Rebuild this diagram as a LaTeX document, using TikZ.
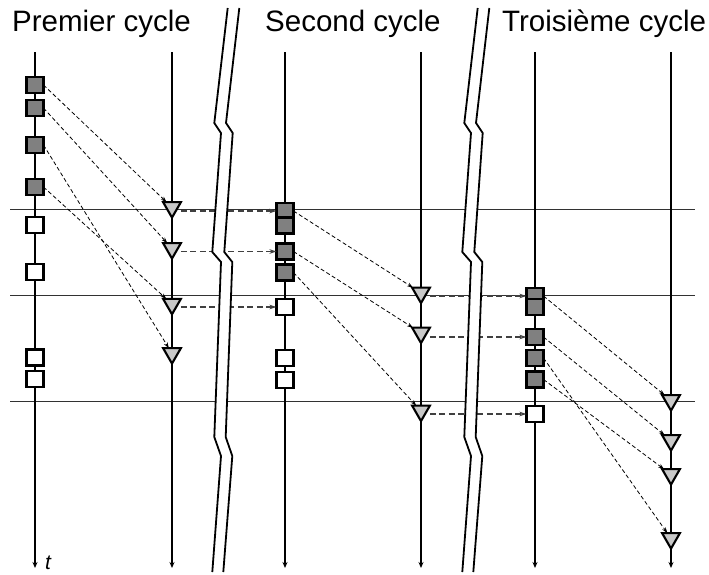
\documentclass[tikz,border=0pt]{standalone}
\usepackage{fontspec}
\setmainfont{Liberation Sans}
\usetikzlibrary{shapes.geometric,arrows.meta}
\definecolor{sqgray}{RGB}{128,128,128}
\definecolor{trigray}{RGB}{200,200,200}
\definecolor{hline}{RGB}{50,50,50}
\begin{document}
\begin{tikzpicture}[x=1pt,y=-1pt,
  dk/.style={draw=black,line width=2.2pt,fill=sqgray,minimum width=17pt,minimum height=16pt,inner sep=0pt,outer sep=0pt},
  wt/.style={dk,fill=white},
  tri/.style={draw=black,line width=2.1pt,fill=trigray,regular polygon,regular polygon sides=3,shape border rotate=180,minimum size=20.5pt,inner sep=0pt,outer sep=0pt},
  axisline/.style={line width=2.2pt,-{Stealth[length=6pt,width=5pt]}},
  hl/.style={line width=0.9pt,draw=hline},
  diag/.style={line width=0.8pt,dash pattern=on 4pt off 2.5pt,-{Stealth[length=6pt,width=4pt]}},
  horz/.style={line width=1.2pt,draw=black!75,dash pattern=on 6pt off 3.5pt,shorten <=3pt,-{Stealth[length=7pt,width=4.5pt]}},
  brk/.style={line width=1.8pt,line join=miter},
  title/.style={font=\fontsize{29.5}{33}\selectfont,anchor=base west,inner sep=0pt}
]
\useasboundingbox (0,0) rectangle (709,574);

% titles
\node[title] (ti1) at (12,31) {Premier cycle};
\node[title] (ti2) at (265,31) {Second cycle};
\node[title] (ti3) at (502,31) {Troisième cycle};

% horizontal reference lines
\draw[hl] (10,209) -- (695,209);
\draw[hl] (10,295) -- (695,295);
\draw[hl] (10,401) -- (695,401);

% time axes
\foreach \i/\x in {1/35,2/172,3/285,4/421,5/535,6/671}{
  \coordinate (top\i) at (\x,52);
  \coordinate (bot\i) at (\x,568);
  \draw[axisline] (top\i) -- (bot\i);
}
\node[font=\fontsize{21}{23}\selectfont\itshape,anchor=base west,inner sep=0pt] (tlab) at (45,569.5) {t};

% column 1
\node[dk] (s11) at (35,85) {};
\node[dk] (s12) at (35,108) {};
\node[dk] (s13) at (35,145) {};
\node[dk] (s14) at (35,187) {};
\node[wt] (w11) at (35,225) {};
\node[wt] (w12) at (35,272) {};
\node[wt] (w13) at (35,357.5) {};
\node[wt] (w14) at (35,379) {};

% column 2
\node[tri] (t21) at (172,207.3) {};
\node[tri] (t22) at (172,248.3) {};
\node[tri] (t23) at (172,304) {};
\node[tri] (t24) at (172,353.3) {};

% column 3
\node[dk] (s31a) at (285,211) {};
\node[dk] (s31b) at (285,225.5) {};
\node[dk] (s32) at (285,251.5) {};
\node[dk] (s33) at (285,272.5) {};
\node[wt] (w31) at (285,307) {};
\node[wt] (w32) at (285,358) {};
\node[wt] (w33) at (285,380) {};

% column 4
\node[tri] (t41) at (421,292.8) {};
\node[tri] (t42) at (421,332.8) {};
\node[tri] (t43) at (421,410.8) {};

% column 5
\node[dk] (s51a) at (535,296) {};
\node[dk] (s51b) at (535,307) {};
\node[dk] (s52) at (535,337) {};
\node[dk] (s53) at (535,358) {};
\node[dk] (s54) at (535,379.5) {};
\node[wt] (w51) at (535,414) {};

% column 6
\node[tri] (t61) at (671,400.3) {};
\node[tri] (t62) at (671,440.3) {};
\node[tri] (t63) at (671,474.3) {};
\node[tri] (t64) at (671,538.3) {};

% diagonal dashed connectors
\draw[diag] (s11.east) -- (t21);
\draw[diag] (s12.east) -- (t22);
\draw[diag] (s13.east) -- (t24);
\draw[diag] (s14.east) -- (t23);
\draw[diag] (s31a.east) -- (t41);
\draw[diag] (s32.east) -- (t42);
\draw[diag] (s33.east) -- (t43);
\draw[diag] (s51a.east) -- (t61);
\draw[diag] (s52.east) -- (t62);
\draw[diag] (s53.east) -- (t64);
\draw[diag] (s54.east) -- (t63);

% horizontal dashed connectors
\draw[horz] (s31a.west -| t21.east) -- (s31a.west);
\draw[horz] (s32.west -| t22.east) -- (s32.west);
\draw[horz] (w31.west -| t23.east) -- (w31.west);
\draw[horz] (s51a.west -| t41.east) -- (s51a.west);
\draw[horz] (s52.west -| t42.east) -- (s52.west);
\draw[horz] (w51.west -| t43.east) -- (w51.west);

% break strips
\foreach \dx in {0,250}{
\begin{scope}[xshift=\dx pt]
  \fill[white] (227.7,8) -- (214.3,123) -- (221,133) -- (212.3,252) -- (221,262) -- (214.3,437) -- (221,456) -- (212.3,572)
    -- (223.3,572) -- (232.3,456) -- (225.7,437) -- (232.3,262) -- (224.3,252) -- (232.7,133) -- (226,123) -- (239.3,8) -- cycle;
  \draw[brk] (227.7,8) -- (214.3,123) -- (221,133) -- (212.3,252) -- (221,262) -- (214.3,437) -- (221,456) -- (212.3,572);
  \draw[brk] (239.3,8) -- (226,123) -- (232.7,133) -- (224.3,252) -- (232.3,262) -- (225.7,437) -- (232.3,456) -- (223.3,572);
\end{scope}
}
\end{tikzpicture}
\end{document}
